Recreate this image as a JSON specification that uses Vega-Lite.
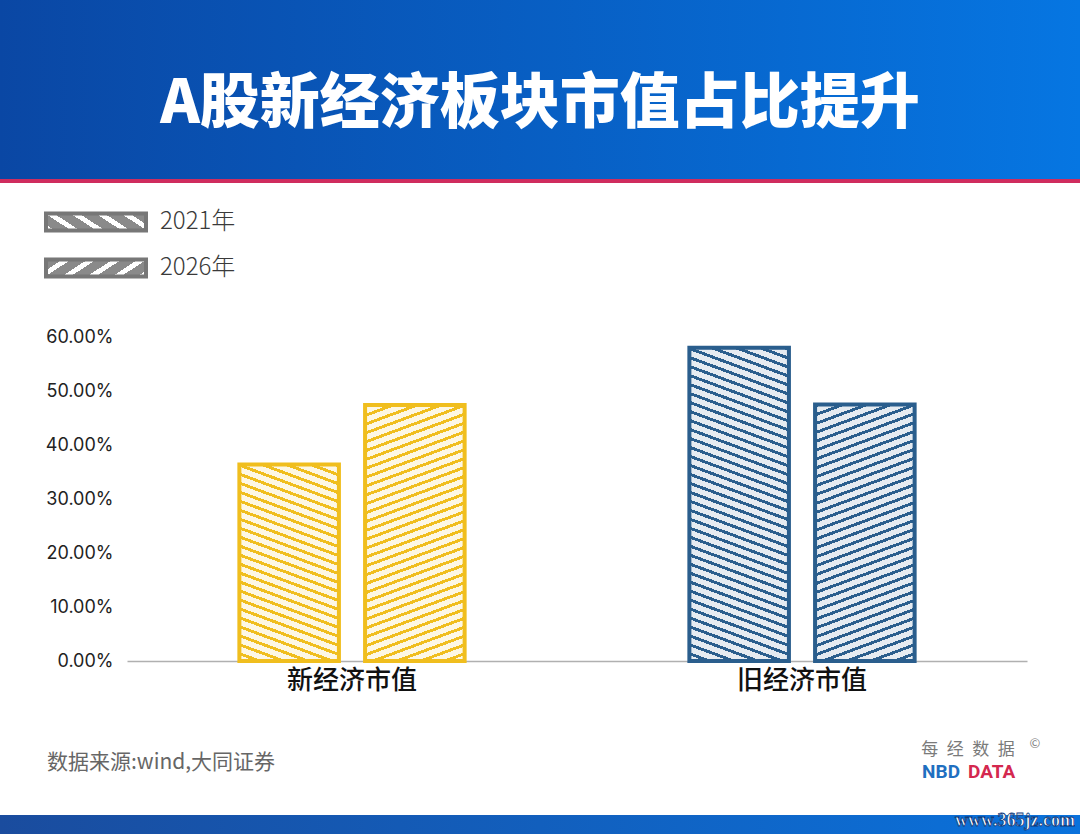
{
"$schema": "https://vega.github.io/schema/vega-lite/v6.json",
"background": "#ffffff",
"padding": 0,
"spacing": 0,
"bounds": "flush",
"config": {"font": "Noto Sans CJK SC", "view": {"stroke": null}},
"vconcat": [
{
 "width": 1080, "height": 179,
 "data": {"values": [{"title": "A股新经济板块市值占比提升"}]},
 "layer": [
  {"mark": {"type": "rect", "fill": {"gradient": "linear", "x1": 0, "y1": 0, "x2": 1, "y2": 0, "stops": [{"offset": 0, "color": "#0a47a4"}, {"offset": 1, "color": "#0676e2"}]}}, "encoding": {}},
  {"mark": {"type": "text", "fill": "#ffffff", "fontSize": 60, "fontWeight": 900, "baseline": "middle", "align": "center", "dy": 15}, "encoding": {"text": {"field": "title"}}}
 ]
},
{"width": 1080, "height": 4, "data": {"values": [{}]}, "mark": {"type": "rect", "fill": "#cf2c5e"}, "encoding": {}},
{
 "width": 192, "height": 154,
 "data": {"values": [{"year": "2021年"}, {"year": "2026年"}]},
 "encoding": {"y": {"field": "year", "type": "nominal", "sort": ["2021年", "2026年"], "scale": {"type": "band", "paddingInner": 0.652, "paddingOuter": 1, "align": 0.337}, "axis": null}},
 "layer": [
  {"mark": {"type": "point", "shape": "M-1,-0.17L1,-0.17L1,0.17L-1,0.17Z", "size": 10000, "filled": true, "opacity": 1, "stroke": "#777777", "strokeWidth": 4},
   "encoding": {"fill": {"condition": {"test": "datum.year === '2021年'", "value": {"gradient": "linear", "x1": 1, "y1": 0, "x2": -0.181, "y2": 0.3088, "stops": [
{"offset":0,"color":"#8a8a8a"},{"offset":0.13,"color":"#8a8a8a"},{"offset":0.13,"color":"#ffffff"},{"offset":0.2,"color":"#ffffff"},
{"offset":0.2,"color":"#8a8a8a"},{"offset":0.33,"color":"#8a8a8a"},{"offset":0.33,"color":"#ffffff"},{"offset":0.4,"color":"#ffffff"},
{"offset":0.4,"color":"#8a8a8a"},{"offset":0.53,"color":"#8a8a8a"},{"offset":0.53,"color":"#ffffff"},{"offset":0.6,"color":"#ffffff"},
{"offset":0.6,"color":"#8a8a8a"},{"offset":0.73,"color":"#8a8a8a"},{"offset":0.73,"color":"#ffffff"},{"offset":0.8,"color":"#ffffff"},
{"offset":0.8,"color":"#8a8a8a"},{"offset":0.93,"color":"#8a8a8a"},{"offset":0.93,"color":"#ffffff"},{"offset":1,"color":"#ffffff"}
    ]}},
    "value": {"gradient": "linear", "x1": 0, "y1": 0, "x2": 1.181, "y2": 0.3088, "stops": [
{"offset":0,"color":"#8a8a8a"},{"offset":0.13,"color":"#8a8a8a"},{"offset":0.13,"color":"#ffffff"},{"offset":0.2,"color":"#ffffff"},
{"offset":0.2,"color":"#8a8a8a"},{"offset":0.33,"color":"#8a8a8a"},{"offset":0.33,"color":"#ffffff"},{"offset":0.4,"color":"#ffffff"},
{"offset":0.4,"color":"#8a8a8a"},{"offset":0.53,"color":"#8a8a8a"},{"offset":0.53,"color":"#ffffff"},{"offset":0.6,"color":"#ffffff"},
{"offset":0.6,"color":"#8a8a8a"},{"offset":0.73,"color":"#8a8a8a"},{"offset":0.73,"color":"#ffffff"},{"offset":0.8,"color":"#ffffff"},
{"offset":0.8,"color":"#8a8a8a"},{"offset":0.93,"color":"#8a8a8a"},{"offset":0.93,"color":"#ffffff"},{"offset":1,"color":"#ffffff"}
    ]}}}},
  {"mark": {"type": "text", "align": "left", "baseline": "middle", "dx": 64, "fontSize": 24, "fontWeight": 300, "fill": "#3a3a3a"}, "encoding": {"text": {"field": "year"}}}
 ]
},
{
 "width": 1080, "height": 324,
 "data": {"values": [
   {"category": "新经济市值", "year": "2021年", "value": 0.364},
   {"category": "新经济市值", "year": "2026年", "value": 0.474},
   {"category": "旧经济市值", "year": "2021年", "value": 0.58},
   {"category": "旧经济市值", "year": "2026年", "value": 0.475}
 ]},
 "encoding": {
   "x": {"field": "category", "type": "nominal", "sort": ["新经济市值", "旧经济市值"], "scale": {"range": [127, 1027], "paddingInner": 0, "paddingOuter": 0}, "axis": {"title": null, "labelAngle": 0, "labelFontSize": 26, "labelFontWeight": 500, "labelColor": "#111111", "labelPadding": 6, "ticks": false, "domainColor": "#b0b0b0", "domainWidth": 1.5, "grid": false}},
   "xOffset": {"field": "year", "type": "nominal", "sort": ["2021年", "2026年"], "scale": {"paddingInner": 0.208, "paddingOuter": 0.894}},
   "y": {"field": "value", "type": "quantitative", "stack": null, "scale": {"domain": [0, 0.6], "nice": false}, "axis": {"title": null, "values": [0, 0.1, 0.2, 0.3, 0.4, 0.5, 0.6], "format": ".2%", "offset": -127, "domain": false, "ticks": false, "grid": false, "labelFont": "Inter", "labelFontSize": 18, "labelColor": "#222222", "labelPadding": 14}}
 },
 "layer": [
  {"mark": {"type": "bar"}, "encoding": {"fill": {"field": "category", "type": "nominal", "scale": {"domain": ["新经济市值", "旧经济市值"], "range": ["#f0be1e", "#2a5e8d"]}, "legend": null}}},
  {"mark": {"type": "bar", "strokeWidth": 4}, "encoding": {
    "fill": {
     "condition": [
      {"test": "datum.year === '2021年' && datum.category === '新经济市值'", "value": {"gradient": "linear", "x1": 1, "y1": 0, "x2": 0.785, "y2": 1.1471, "stops": [
{"offset":0,"color":"rgba(255,255,255,0)"},{"offset":0.0135,"color":"rgba(255,255,255,0)"},{"offset":0.0135,"color":"rgba(255,255,255,0.88)"},{"offset":0.0385,"color":"rgba(255,255,255,0.88)"},
{"offset":0.0385,"color":"rgba(255,255,255,0)"},{"offset":0.0519,"color":"rgba(255,255,255,0)"},{"offset":0.0519,"color":"rgba(255,255,255,0.88)"},{"offset":0.0769,"color":"rgba(255,255,255,0.88)"},
{"offset":0.0769,"color":"rgba(255,255,255,0)"},{"offset":0.0904,"color":"rgba(255,255,255,0)"},{"offset":0.0904,"color":"rgba(255,255,255,0.88)"},{"offset":0.1154,"color":"rgba(255,255,255,0.88)"},
{"offset":0.1154,"color":"rgba(255,255,255,0)"},{"offset":0.1288,"color":"rgba(255,255,255,0)"},{"offset":0.1288,"color":"rgba(255,255,255,0.88)"},{"offset":0.1538,"color":"rgba(255,255,255,0.88)"},
{"offset":0.1538,"color":"rgba(255,255,255,0)"},{"offset":0.1673,"color":"rgba(255,255,255,0)"},{"offset":0.1673,"color":"rgba(255,255,255,0.88)"},{"offset":0.1923,"color":"rgba(255,255,255,0.88)"},
{"offset":0.1923,"color":"rgba(255,255,255,0)"},{"offset":0.2058,"color":"rgba(255,255,255,0)"},{"offset":0.2058,"color":"rgba(255,255,255,0.88)"},{"offset":0.2308,"color":"rgba(255,255,255,0.88)"},
{"offset":0.2308,"color":"rgba(255,255,255,0)"},{"offset":0.2442,"color":"rgba(255,255,255,0)"},{"offset":0.2442,"color":"rgba(255,255,255,0.88)"},{"offset":0.2692,"color":"rgba(255,255,255,0.88)"},
{"offset":0.2692,"color":"rgba(255,255,255,0)"},{"offset":0.2827,"color":"rgba(255,255,255,0)"},{"offset":0.2827,"color":"rgba(255,255,255,0.88)"},{"offset":0.3077,"color":"rgba(255,255,255,0.88)"},
{"offset":0.3077,"color":"rgba(255,255,255,0)"},{"offset":0.3212,"color":"rgba(255,255,255,0)"},{"offset":0.3212,"color":"rgba(255,255,255,0.88)"},{"offset":0.3462,"color":"rgba(255,255,255,0.88)"},
{"offset":0.3462,"color":"rgba(255,255,255,0)"},{"offset":0.3596,"color":"rgba(255,255,255,0)"},{"offset":0.3596,"color":"rgba(255,255,255,0.88)"},{"offset":0.3846,"color":"rgba(255,255,255,0.88)"},
{"offset":0.3846,"color":"rgba(255,255,255,0)"},{"offset":0.3981,"color":"rgba(255,255,255,0)"},{"offset":0.3981,"color":"rgba(255,255,255,0.88)"},{"offset":0.4231,"color":"rgba(255,255,255,0.88)"},
{"offset":0.4231,"color":"rgba(255,255,255,0)"},{"offset":0.4365,"color":"rgba(255,255,255,0)"},{"offset":0.4365,"color":"rgba(255,255,255,0.88)"},{"offset":0.4615,"color":"rgba(255,255,255,0.88)"},
{"offset":0.4615,"color":"rgba(255,255,255,0)"},{"offset":0.4750,"color":"rgba(255,255,255,0)"},{"offset":0.4750,"color":"rgba(255,255,255,0.88)"},{"offset":0.5000,"color":"rgba(255,255,255,0.88)"},
{"offset":0.5000,"color":"rgba(255,255,255,0)"},{"offset":0.5135,"color":"rgba(255,255,255,0)"},{"offset":0.5135,"color":"rgba(255,255,255,0.88)"},{"offset":0.5385,"color":"rgba(255,255,255,0.88)"},
{"offset":0.5385,"color":"rgba(255,255,255,0)"},{"offset":0.5519,"color":"rgba(255,255,255,0)"},{"offset":0.5519,"color":"rgba(255,255,255,0.88)"},{"offset":0.5769,"color":"rgba(255,255,255,0.88)"},
{"offset":0.5769,"color":"rgba(255,255,255,0)"},{"offset":0.5904,"color":"rgba(255,255,255,0)"},{"offset":0.5904,"color":"rgba(255,255,255,0.88)"},{"offset":0.6154,"color":"rgba(255,255,255,0.88)"},
{"offset":0.6154,"color":"rgba(255,255,255,0)"},{"offset":0.6288,"color":"rgba(255,255,255,0)"},{"offset":0.6288,"color":"rgba(255,255,255,0.88)"},{"offset":0.6538,"color":"rgba(255,255,255,0.88)"},
{"offset":0.6538,"color":"rgba(255,255,255,0)"},{"offset":0.6673,"color":"rgba(255,255,255,0)"},{"offset":0.6673,"color":"rgba(255,255,255,0.88)"},{"offset":0.6923,"color":"rgba(255,255,255,0.88)"},
{"offset":0.6923,"color":"rgba(255,255,255,0)"},{"offset":0.7058,"color":"rgba(255,255,255,0)"},{"offset":0.7058,"color":"rgba(255,255,255,0.88)"},{"offset":0.7308,"color":"rgba(255,255,255,0.88)"},
{"offset":0.7308,"color":"rgba(255,255,255,0)"},{"offset":0.7442,"color":"rgba(255,255,255,0)"},{"offset":0.7442,"color":"rgba(255,255,255,0.88)"},{"offset":0.7692,"color":"rgba(255,255,255,0.88)"},
{"offset":0.7692,"color":"rgba(255,255,255,0)"},{"offset":0.7827,"color":"rgba(255,255,255,0)"},{"offset":0.7827,"color":"rgba(255,255,255,0.88)"},{"offset":0.8077,"color":"rgba(255,255,255,0.88)"},
{"offset":0.8077,"color":"rgba(255,255,255,0)"},{"offset":0.8212,"color":"rgba(255,255,255,0)"},{"offset":0.8212,"color":"rgba(255,255,255,0.88)"},{"offset":0.8462,"color":"rgba(255,255,255,0.88)"},
{"offset":0.8462,"color":"rgba(255,255,255,0)"},{"offset":0.8596,"color":"rgba(255,255,255,0)"},{"offset":0.8596,"color":"rgba(255,255,255,0.88)"},{"offset":0.8846,"color":"rgba(255,255,255,0.88)"},
{"offset":0.8846,"color":"rgba(255,255,255,0)"},{"offset":0.8981,"color":"rgba(255,255,255,0)"},{"offset":0.8981,"color":"rgba(255,255,255,0.88)"},{"offset":0.9231,"color":"rgba(255,255,255,0.88)"},
{"offset":0.9231,"color":"rgba(255,255,255,0)"},{"offset":0.9365,"color":"rgba(255,255,255,0)"},{"offset":0.9365,"color":"rgba(255,255,255,0.88)"},{"offset":0.9615,"color":"rgba(255,255,255,0.88)"},
{"offset":0.9615,"color":"rgba(255,255,255,0)"},{"offset":0.9750,"color":"rgba(255,255,255,0)"},{"offset":0.9750,"color":"rgba(255,255,255,0.88)"},{"offset":1,"color":"rgba(255,255,255,0.88)"}
      ]}},
      {"test": "datum.year === '2021年'", "value": {"gradient": "linear", "x1": 1, "y1": 0, "x2": 0.8703, "y2": 1.1024, "stops": [
{"offset":0,"color":"rgba(255,255,255,0)"},{"offset":0.0090,"color":"rgba(255,255,255,0)"},{"offset":0.0090,"color":"rgba(255,255,255,0.88)"},{"offset":0.0256,"color":"rgba(255,255,255,0.88)"},
{"offset":0.0256,"color":"rgba(255,255,255,0)"},{"offset":0.0346,"color":"rgba(255,255,255,0)"},{"offset":0.0346,"color":"rgba(255,255,255,0.88)"},{"offset":0.0513,"color":"rgba(255,255,255,0.88)"},
{"offset":0.0513,"color":"rgba(255,255,255,0)"},{"offset":0.0603,"color":"rgba(255,255,255,0)"},{"offset":0.0603,"color":"rgba(255,255,255,0.88)"},{"offset":0.0769,"color":"rgba(255,255,255,0.88)"},
{"offset":0.0769,"color":"rgba(255,255,255,0)"},{"offset":0.0859,"color":"rgba(255,255,255,0)"},{"offset":0.0859,"color":"rgba(255,255,255,0.88)"},{"offset":0.1026,"color":"rgba(255,255,255,0.88)"},
{"offset":0.1026,"color":"rgba(255,255,255,0)"},{"offset":0.1115,"color":"rgba(255,255,255,0)"},{"offset":0.1115,"color":"rgba(255,255,255,0.88)"},{"offset":0.1282,"color":"rgba(255,255,255,0.88)"},
{"offset":0.1282,"color":"rgba(255,255,255,0)"},{"offset":0.1372,"color":"rgba(255,255,255,0)"},{"offset":0.1372,"color":"rgba(255,255,255,0.88)"},{"offset":0.1538,"color":"rgba(255,255,255,0.88)"},
{"offset":0.1538,"color":"rgba(255,255,255,0)"},{"offset":0.1628,"color":"rgba(255,255,255,0)"},{"offset":0.1628,"color":"rgba(255,255,255,0.88)"},{"offset":0.1795,"color":"rgba(255,255,255,0.88)"},
{"offset":0.1795,"color":"rgba(255,255,255,0)"},{"offset":0.1885,"color":"rgba(255,255,255,0)"},{"offset":0.1885,"color":"rgba(255,255,255,0.88)"},{"offset":0.2051,"color":"rgba(255,255,255,0.88)"},
{"offset":0.2051,"color":"rgba(255,255,255,0)"},{"offset":0.2141,"color":"rgba(255,255,255,0)"},{"offset":0.2141,"color":"rgba(255,255,255,0.88)"},{"offset":0.2308,"color":"rgba(255,255,255,0.88)"},
{"offset":0.2308,"color":"rgba(255,255,255,0)"},{"offset":0.2397,"color":"rgba(255,255,255,0)"},{"offset":0.2397,"color":"rgba(255,255,255,0.88)"},{"offset":0.2564,"color":"rgba(255,255,255,0.88)"},
{"offset":0.2564,"color":"rgba(255,255,255,0)"},{"offset":0.2654,"color":"rgba(255,255,255,0)"},{"offset":0.2654,"color":"rgba(255,255,255,0.88)"},{"offset":0.2821,"color":"rgba(255,255,255,0.88)"},
{"offset":0.2821,"color":"rgba(255,255,255,0)"},{"offset":0.2910,"color":"rgba(255,255,255,0)"},{"offset":0.2910,"color":"rgba(255,255,255,0.88)"},{"offset":0.3077,"color":"rgba(255,255,255,0.88)"},
{"offset":0.3077,"color":"rgba(255,255,255,0)"},{"offset":0.3167,"color":"rgba(255,255,255,0)"},{"offset":0.3167,"color":"rgba(255,255,255,0.88)"},{"offset":0.3333,"color":"rgba(255,255,255,0.88)"},
{"offset":0.3333,"color":"rgba(255,255,255,0)"},{"offset":0.3423,"color":"rgba(255,255,255,0)"},{"offset":0.3423,"color":"rgba(255,255,255,0.88)"},{"offset":0.3590,"color":"rgba(255,255,255,0.88)"},
{"offset":0.3590,"color":"rgba(255,255,255,0)"},{"offset":0.3679,"color":"rgba(255,255,255,0)"},{"offset":0.3679,"color":"rgba(255,255,255,0.88)"},{"offset":0.3846,"color":"rgba(255,255,255,0.88)"},
{"offset":0.3846,"color":"rgba(255,255,255,0)"},{"offset":0.3936,"color":"rgba(255,255,255,0)"},{"offset":0.3936,"color":"rgba(255,255,255,0.88)"},{"offset":0.4103,"color":"rgba(255,255,255,0.88)"},
{"offset":0.4103,"color":"rgba(255,255,255,0)"},{"offset":0.4192,"color":"rgba(255,255,255,0)"},{"offset":0.4192,"color":"rgba(255,255,255,0.88)"},{"offset":0.4359,"color":"rgba(255,255,255,0.88)"},
{"offset":0.4359,"color":"rgba(255,255,255,0)"},{"offset":0.4449,"color":"rgba(255,255,255,0)"},{"offset":0.4449,"color":"rgba(255,255,255,0.88)"},{"offset":0.4615,"color":"rgba(255,255,255,0.88)"},
{"offset":0.4615,"color":"rgba(255,255,255,0)"},{"offset":0.4705,"color":"rgba(255,255,255,0)"},{"offset":0.4705,"color":"rgba(255,255,255,0.88)"},{"offset":0.4872,"color":"rgba(255,255,255,0.88)"},
{"offset":0.4872,"color":"rgba(255,255,255,0)"},{"offset":0.4962,"color":"rgba(255,255,255,0)"},{"offset":0.4962,"color":"rgba(255,255,255,0.88)"},{"offset":0.5128,"color":"rgba(255,255,255,0.88)"},
{"offset":0.5128,"color":"rgba(255,255,255,0)"},{"offset":0.5218,"color":"rgba(255,255,255,0)"},{"offset":0.5218,"color":"rgba(255,255,255,0.88)"},{"offset":0.5385,"color":"rgba(255,255,255,0.88)"},
{"offset":0.5385,"color":"rgba(255,255,255,0)"},{"offset":0.5474,"color":"rgba(255,255,255,0)"},{"offset":0.5474,"color":"rgba(255,255,255,0.88)"},{"offset":0.5641,"color":"rgba(255,255,255,0.88)"},
{"offset":0.5641,"color":"rgba(255,255,255,0)"},{"offset":0.5731,"color":"rgba(255,255,255,0)"},{"offset":0.5731,"color":"rgba(255,255,255,0.88)"},{"offset":0.5897,"color":"rgba(255,255,255,0.88)"},
{"offset":0.5897,"color":"rgba(255,255,255,0)"},{"offset":0.5987,"color":"rgba(255,255,255,0)"},{"offset":0.5987,"color":"rgba(255,255,255,0.88)"},{"offset":0.6154,"color":"rgba(255,255,255,0.88)"},
{"offset":0.6154,"color":"rgba(255,255,255,0)"},{"offset":0.6244,"color":"rgba(255,255,255,0)"},{"offset":0.6244,"color":"rgba(255,255,255,0.88)"},{"offset":0.6410,"color":"rgba(255,255,255,0.88)"},
{"offset":0.6410,"color":"rgba(255,255,255,0)"},{"offset":0.6500,"color":"rgba(255,255,255,0)"},{"offset":0.6500,"color":"rgba(255,255,255,0.88)"},{"offset":0.6667,"color":"rgba(255,255,255,0.88)"},
{"offset":0.6667,"color":"rgba(255,255,255,0)"},{"offset":0.6756,"color":"rgba(255,255,255,0)"},{"offset":0.6756,"color":"rgba(255,255,255,0.88)"},{"offset":0.6923,"color":"rgba(255,255,255,0.88)"},
{"offset":0.6923,"color":"rgba(255,255,255,0)"},{"offset":0.7013,"color":"rgba(255,255,255,0)"},{"offset":0.7013,"color":"rgba(255,255,255,0.88)"},{"offset":0.7179,"color":"rgba(255,255,255,0.88)"},
{"offset":0.7179,"color":"rgba(255,255,255,0)"},{"offset":0.7269,"color":"rgba(255,255,255,0)"},{"offset":0.7269,"color":"rgba(255,255,255,0.88)"},{"offset":0.7436,"color":"rgba(255,255,255,0.88)"},
{"offset":0.7436,"color":"rgba(255,255,255,0)"},{"offset":0.7526,"color":"rgba(255,255,255,0)"},{"offset":0.7526,"color":"rgba(255,255,255,0.88)"},{"offset":0.7692,"color":"rgba(255,255,255,0.88)"},
{"offset":0.7692,"color":"rgba(255,255,255,0)"},{"offset":0.7782,"color":"rgba(255,255,255,0)"},{"offset":0.7782,"color":"rgba(255,255,255,0.88)"},{"offset":0.7949,"color":"rgba(255,255,255,0.88)"},
{"offset":0.7949,"color":"rgba(255,255,255,0)"},{"offset":0.8038,"color":"rgba(255,255,255,0)"},{"offset":0.8038,"color":"rgba(255,255,255,0.88)"},{"offset":0.8205,"color":"rgba(255,255,255,0.88)"},
{"offset":0.8205,"color":"rgba(255,255,255,0)"},{"offset":0.8295,"color":"rgba(255,255,255,0)"},{"offset":0.8295,"color":"rgba(255,255,255,0.88)"},{"offset":0.8462,"color":"rgba(255,255,255,0.88)"},
{"offset":0.8462,"color":"rgba(255,255,255,0)"},{"offset":0.8551,"color":"rgba(255,255,255,0)"},{"offset":0.8551,"color":"rgba(255,255,255,0.88)"},{"offset":0.8718,"color":"rgba(255,255,255,0.88)"},
{"offset":0.8718,"color":"rgba(255,255,255,0)"},{"offset":0.8808,"color":"rgba(255,255,255,0)"},{"offset":0.8808,"color":"rgba(255,255,255,0.88)"},{"offset":0.8974,"color":"rgba(255,255,255,0.88)"},
{"offset":0.8974,"color":"rgba(255,255,255,0)"},{"offset":0.9064,"color":"rgba(255,255,255,0)"},{"offset":0.9064,"color":"rgba(255,255,255,0.88)"},{"offset":0.9231,"color":"rgba(255,255,255,0.88)"},
{"offset":0.9231,"color":"rgba(255,255,255,0)"},{"offset":0.9321,"color":"rgba(255,255,255,0)"},{"offset":0.9321,"color":"rgba(255,255,255,0.88)"},{"offset":0.9487,"color":"rgba(255,255,255,0.88)"},
{"offset":0.9487,"color":"rgba(255,255,255,0)"},{"offset":0.9577,"color":"rgba(255,255,255,0)"},{"offset":0.9577,"color":"rgba(255,255,255,0.88)"},{"offset":0.9744,"color":"rgba(255,255,255,0.88)"},
{"offset":0.9744,"color":"rgba(255,255,255,0)"},{"offset":0.9833,"color":"rgba(255,255,255,0)"},{"offset":0.9833,"color":"rgba(255,255,255,0.88)"},{"offset":1,"color":"rgba(255,255,255,0.88)"}
      ]}}
     ],
     "value": {"gradient": "linear", "x1": 0, "y1": 0, "x2": 0.1611, "y2": 1.1206, "stops": [
{"offset":0,"color":"rgba(255,255,255,0)"},{"offset":0.0106,"color":"rgba(255,255,255,0)"},{"offset":0.0106,"color":"rgba(255,255,255,0.88)"},{"offset":0.0303,"color":"rgba(255,255,255,0.88)"},
{"offset":0.0303,"color":"rgba(255,255,255,0)"},{"offset":0.0409,"color":"rgba(255,255,255,0)"},{"offset":0.0409,"color":"rgba(255,255,255,0.88)"},{"offset":0.0606,"color":"rgba(255,255,255,0.88)"},
{"offset":0.0606,"color":"rgba(255,255,255,0)"},{"offset":0.0712,"color":"rgba(255,255,255,0)"},{"offset":0.0712,"color":"rgba(255,255,255,0.88)"},{"offset":0.0909,"color":"rgba(255,255,255,0.88)"},
{"offset":0.0909,"color":"rgba(255,255,255,0)"},{"offset":0.1015,"color":"rgba(255,255,255,0)"},{"offset":0.1015,"color":"rgba(255,255,255,0.88)"},{"offset":0.1212,"color":"rgba(255,255,255,0.88)"},
{"offset":0.1212,"color":"rgba(255,255,255,0)"},{"offset":0.1318,"color":"rgba(255,255,255,0)"},{"offset":0.1318,"color":"rgba(255,255,255,0.88)"},{"offset":0.1515,"color":"rgba(255,255,255,0.88)"},
{"offset":0.1515,"color":"rgba(255,255,255,0)"},{"offset":0.1621,"color":"rgba(255,255,255,0)"},{"offset":0.1621,"color":"rgba(255,255,255,0.88)"},{"offset":0.1818,"color":"rgba(255,255,255,0.88)"},
{"offset":0.1818,"color":"rgba(255,255,255,0)"},{"offset":0.1924,"color":"rgba(255,255,255,0)"},{"offset":0.1924,"color":"rgba(255,255,255,0.88)"},{"offset":0.2121,"color":"rgba(255,255,255,0.88)"},
{"offset":0.2121,"color":"rgba(255,255,255,0)"},{"offset":0.2227,"color":"rgba(255,255,255,0)"},{"offset":0.2227,"color":"rgba(255,255,255,0.88)"},{"offset":0.2424,"color":"rgba(255,255,255,0.88)"},
{"offset":0.2424,"color":"rgba(255,255,255,0)"},{"offset":0.2530,"color":"rgba(255,255,255,0)"},{"offset":0.2530,"color":"rgba(255,255,255,0.88)"},{"offset":0.2727,"color":"rgba(255,255,255,0.88)"},
{"offset":0.2727,"color":"rgba(255,255,255,0)"},{"offset":0.2833,"color":"rgba(255,255,255,0)"},{"offset":0.2833,"color":"rgba(255,255,255,0.88)"},{"offset":0.3030,"color":"rgba(255,255,255,0.88)"},
{"offset":0.3030,"color":"rgba(255,255,255,0)"},{"offset":0.3136,"color":"rgba(255,255,255,0)"},{"offset":0.3136,"color":"rgba(255,255,255,0.88)"},{"offset":0.3333,"color":"rgba(255,255,255,0.88)"},
{"offset":0.3333,"color":"rgba(255,255,255,0)"},{"offset":0.3439,"color":"rgba(255,255,255,0)"},{"offset":0.3439,"color":"rgba(255,255,255,0.88)"},{"offset":0.3636,"color":"rgba(255,255,255,0.88)"},
{"offset":0.3636,"color":"rgba(255,255,255,0)"},{"offset":0.3742,"color":"rgba(255,255,255,0)"},{"offset":0.3742,"color":"rgba(255,255,255,0.88)"},{"offset":0.3939,"color":"rgba(255,255,255,0.88)"},
{"offset":0.3939,"color":"rgba(255,255,255,0)"},{"offset":0.4045,"color":"rgba(255,255,255,0)"},{"offset":0.4045,"color":"rgba(255,255,255,0.88)"},{"offset":0.4242,"color":"rgba(255,255,255,0.88)"},
{"offset":0.4242,"color":"rgba(255,255,255,0)"},{"offset":0.4348,"color":"rgba(255,255,255,0)"},{"offset":0.4348,"color":"rgba(255,255,255,0.88)"},{"offset":0.4545,"color":"rgba(255,255,255,0.88)"},
{"offset":0.4545,"color":"rgba(255,255,255,0)"},{"offset":0.4652,"color":"rgba(255,255,255,0)"},{"offset":0.4652,"color":"rgba(255,255,255,0.88)"},{"offset":0.4848,"color":"rgba(255,255,255,0.88)"},
{"offset":0.4848,"color":"rgba(255,255,255,0)"},{"offset":0.4955,"color":"rgba(255,255,255,0)"},{"offset":0.4955,"color":"rgba(255,255,255,0.88)"},{"offset":0.5152,"color":"rgba(255,255,255,0.88)"},
{"offset":0.5152,"color":"rgba(255,255,255,0)"},{"offset":0.5258,"color":"rgba(255,255,255,0)"},{"offset":0.5258,"color":"rgba(255,255,255,0.88)"},{"offset":0.5455,"color":"rgba(255,255,255,0.88)"},
{"offset":0.5455,"color":"rgba(255,255,255,0)"},{"offset":0.5561,"color":"rgba(255,255,255,0)"},{"offset":0.5561,"color":"rgba(255,255,255,0.88)"},{"offset":0.5758,"color":"rgba(255,255,255,0.88)"},
{"offset":0.5758,"color":"rgba(255,255,255,0)"},{"offset":0.5864,"color":"rgba(255,255,255,0)"},{"offset":0.5864,"color":"rgba(255,255,255,0.88)"},{"offset":0.6061,"color":"rgba(255,255,255,0.88)"},
{"offset":0.6061,"color":"rgba(255,255,255,0)"},{"offset":0.6167,"color":"rgba(255,255,255,0)"},{"offset":0.6167,"color":"rgba(255,255,255,0.88)"},{"offset":0.6364,"color":"rgba(255,255,255,0.88)"},
{"offset":0.6364,"color":"rgba(255,255,255,0)"},{"offset":0.6470,"color":"rgba(255,255,255,0)"},{"offset":0.6470,"color":"rgba(255,255,255,0.88)"},{"offset":0.6667,"color":"rgba(255,255,255,0.88)"},
{"offset":0.6667,"color":"rgba(255,255,255,0)"},{"offset":0.6773,"color":"rgba(255,255,255,0)"},{"offset":0.6773,"color":"rgba(255,255,255,0.88)"},{"offset":0.6970,"color":"rgba(255,255,255,0.88)"},
{"offset":0.6970,"color":"rgba(255,255,255,0)"},{"offset":0.7076,"color":"rgba(255,255,255,0)"},{"offset":0.7076,"color":"rgba(255,255,255,0.88)"},{"offset":0.7273,"color":"rgba(255,255,255,0.88)"},
{"offset":0.7273,"color":"rgba(255,255,255,0)"},{"offset":0.7379,"color":"rgba(255,255,255,0)"},{"offset":0.7379,"color":"rgba(255,255,255,0.88)"},{"offset":0.7576,"color":"rgba(255,255,255,0.88)"},
{"offset":0.7576,"color":"rgba(255,255,255,0)"},{"offset":0.7682,"color":"rgba(255,255,255,0)"},{"offset":0.7682,"color":"rgba(255,255,255,0.88)"},{"offset":0.7879,"color":"rgba(255,255,255,0.88)"},
{"offset":0.7879,"color":"rgba(255,255,255,0)"},{"offset":0.7985,"color":"rgba(255,255,255,0)"},{"offset":0.7985,"color":"rgba(255,255,255,0.88)"},{"offset":0.8182,"color":"rgba(255,255,255,0.88)"},
{"offset":0.8182,"color":"rgba(255,255,255,0)"},{"offset":0.8288,"color":"rgba(255,255,255,0)"},{"offset":0.8288,"color":"rgba(255,255,255,0.88)"},{"offset":0.8485,"color":"rgba(255,255,255,0.88)"},
{"offset":0.8485,"color":"rgba(255,255,255,0)"},{"offset":0.8591,"color":"rgba(255,255,255,0)"},{"offset":0.8591,"color":"rgba(255,255,255,0.88)"},{"offset":0.8788,"color":"rgba(255,255,255,0.88)"},
{"offset":0.8788,"color":"rgba(255,255,255,0)"},{"offset":0.8894,"color":"rgba(255,255,255,0)"},{"offset":0.8894,"color":"rgba(255,255,255,0.88)"},{"offset":0.9091,"color":"rgba(255,255,255,0.88)"},
{"offset":0.9091,"color":"rgba(255,255,255,0)"},{"offset":0.9197,"color":"rgba(255,255,255,0)"},{"offset":0.9197,"color":"rgba(255,255,255,0.88)"},{"offset":0.9394,"color":"rgba(255,255,255,0.88)"},
{"offset":0.9394,"color":"rgba(255,255,255,0)"},{"offset":0.9500,"color":"rgba(255,255,255,0)"},{"offset":0.9500,"color":"rgba(255,255,255,0.88)"},{"offset":0.9697,"color":"rgba(255,255,255,0.88)"},
{"offset":0.9697,"color":"rgba(255,255,255,0)"},{"offset":0.9803,"color":"rgba(255,255,255,0)"},{"offset":0.9803,"color":"rgba(255,255,255,0.88)"},{"offset":1,"color":"rgba(255,255,255,0.88)"}
     ]}
    },
    "stroke": {"field": "category", "type": "nominal", "scale": {"domain": ["新经济市值", "旧经济市值"], "range": ["#f0be1e", "#2a5e8d"]}, "legend": null}
  }}
 ]
},
{
 "width": 1080, "height": 154,
 "data": {"values": [{"source": "数据来源:wind,大同证券", "brand": "每\u2002经\u2002数\u2002据", "copy": "©", "nbd": "NBD", "dt": "DATA"}]},
 "layer": [
  {"mark": {"type": "text", "align": "left", "baseline": "middle", "dx": -493, "dy": 25, "fontSize": 21, "fill": "#666666"}, "encoding": {"text": {"field": "source"}}},
  {"mark": {"type": "text", "align": "center", "baseline": "middle", "dx": 428, "dy": 12, "fontSize": 17, "fill": "#7a7a7a"}, "encoding": {"text": {"field": "brand"}}},
  {"mark": {"type": "text", "align": "center", "baseline": "middle", "dx": 495, "dy": 6, "fontSize": 13, "fill": "#7a7a7a"}, "encoding": {"text": {"field": "copy"}}},
  {"mark": {"type": "text", "align": "right", "baseline": "middle", "dx": 420, "dy": 34, "fontSize": 19, "fontWeight": "bold", "font": "Roboto", "fill": "#1f6fc0"}, "encoding": {"text": {"field": "nbd"}}},
  {"mark": {"type": "text", "align": "left", "baseline": "middle", "dx": 428, "dy": 34, "fontSize": 19, "fontWeight": "bold", "font": "Roboto", "fill": "#d4284f"}, "encoding": {"text": {"field": "dt"}}}
 ]
},
{
 "width": 1080, "height": 19,
 "data": {"values": [{"wm": "www.365jz.com"}]},
 "layer": [
  {"mark": {"type": "rect", "fill": {"gradient": "linear", "x1": 0, "y1": 0, "x2": 1, "y2": 0, "stops": [{"offset": 0, "color": "#1a4c9e"}, {"offset": 1, "color": "#0a72dc"}]}}, "encoding": {}},
  {"mark": {"type": "text", "align": "right", "baseline": "middle", "dx": 535, "dy": -4, "fontSize": 18, "fontWeight": "bold", "font": "Liberation Sans Narrow", "fill": "#ffffff", "stroke": "#0d3a7c", "strokeWidth": 0.8}, "encoding": {"text": {"field": "wm"}}}
 ]
}
]
}
